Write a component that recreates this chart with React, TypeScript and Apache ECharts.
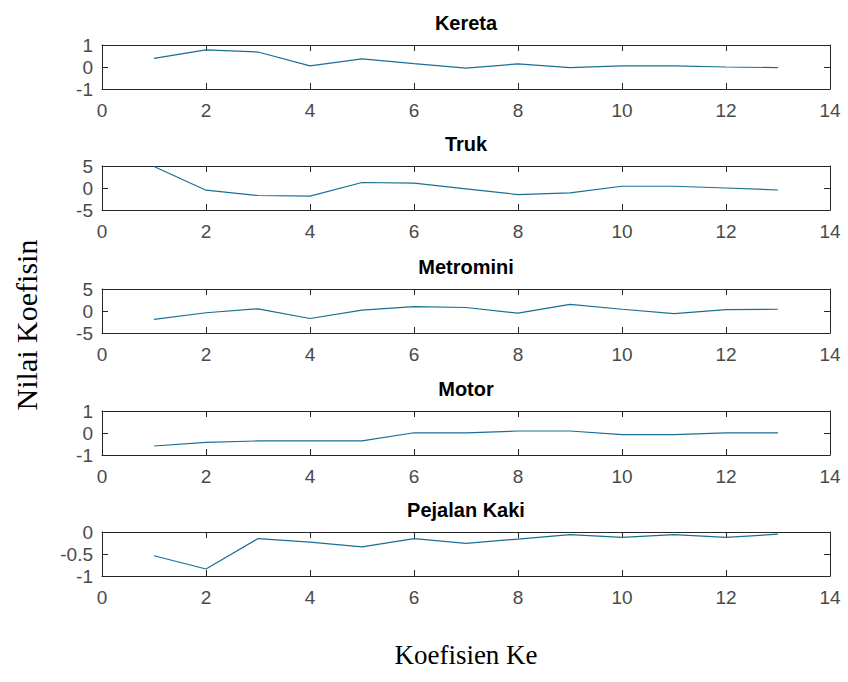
import React, { useEffect, useRef } from "react";
import * as echarts from "echarts";

// ---- data ----
const coefIndex = [1, 2, 3, 4, 5, 6, 7, 8, 9, 10, 11, 12, 13];
const titles = ["Kereta", "Truk", "Metromini", "Motor", "Pejalan Kaki"];
const kereta = [0.39, 0.78, 0.68, 0.05, 0.37, 0.15, -0.05, 0.14, -0.03, 0.05, 0.05, 0.0, -0.03];
const truk = [4.9, -0.5, -1.7, -1.85, 1.25, 1.1, -0.2, -1.5, -1.1, 0.4, 0.4, 0.0, -0.45];
const metromini = [-1.9, -0.4, 0.5, -1.7, 0.2, 1.0, 0.8, -0.5, 1.5, 0.4, -0.6, 0.3, 0.4];
const motor = [-0.59, -0.43, -0.36, -0.36, -0.36, 0.01, 0.01, 0.09, 0.09, -0.07, -0.07, 0.01, 0.01];
const pejalanKaki = [-0.54, -0.84, -0.15, -0.23, -0.34, -0.15, -0.26, -0.16, -0.06, -0.12, -0.06, -0.12, -0.05];
const seriesValues = [kereta, truk, metromini, motor, pejalanKaki];
const yMins = [-1, -5, -5, -1, -1];
const yMaxs = [1, 5, 5, 1, 0];
const yIntervals = [1, 5, 5, 1, 0.5];
const xMin = 0;
const xMax = 14;
const xInterval = 2;
const yAxisTitle = "Nilai Koefisin";
const xAxisTitle = "Koefisien Ke";

// ---- layout ----
const W = 848;
const H = 682;
const gridLeft = 102;
const gridWidth = 728;
const gridTops = [45, 166, 289, 411, 532];
const gridHeight = 44;
const lineColor = "#1a6e96";
const axisColor = "#262626";
const labelColor = "#4a4a4a";
const sansFont = "'Liberation Sans', Arial, Helvetica, sans-serif";
const serifFont = "'Liberation Serif', 'Times New Roman', serif";

export default function App() {
  const ref = useRef<HTMLDivElement>(null);

  useEffect(() => {
    if (!ref.current) return;
    const chart = echarts.init(ref.current, null, { renderer: "svg", width: W, height: H });

    const grids: any[] = [];
    const xAxes: any[] = [];
    const yAxes: any[] = [];
    const series: any[] = [];
    const graphics: any[] = [];

    titles.forEach((t, i) => {
      grids.push({ left: gridLeft, top: gridTops[i], width: gridWidth, height: gridHeight, containLabel: false });
      const axisLine = { show: true, onZero: false, lineStyle: { color: axisColor, width: 1 } };
      const tick = { show: true, inside: true, length: 6, lineStyle: { color: axisColor } };
      xAxes.push({
        type: "value", gridIndex: i, position: "bottom", min: xMin, max: xMax, interval: xInterval,
        axisLine, axisTick: tick, splitLine: { show: false },
        axisLabel: { show: true, color: labelColor, fontSize: 19, fontFamily: sansFont, margin: 12 },
      });
      xAxes.push({
        type: "value", gridIndex: i, position: "top", min: xMin, max: xMax, interval: xInterval,
        axisLine, axisTick: tick, splitLine: { show: false }, axisLabel: { show: false },
      });
      yAxes.push({
        type: "value", gridIndex: i, position: "left", min: yMins[i], max: yMaxs[i], interval: yIntervals[i],
        axisLine, axisTick: tick, splitLine: { show: false },
        axisLabel: { show: true, color: labelColor, fontSize: 19, fontFamily: sansFont, margin: 9 },
      });
      yAxes.push({
        type: "value", gridIndex: i, position: "right", min: yMins[i], max: yMaxs[i], interval: yIntervals[i],
        axisLine, axisTick: tick, splitLine: { show: false }, axisLabel: { show: false },
      });
      series.push({
        type: "line",
        name: t,
        xAxisIndex: i * 2,
        yAxisIndex: i * 2,
        data: coefIndex.map((x, k) => [x, seriesValues[i][k]]),
        showSymbol: false,
        symbol: "none",
        lineStyle: { color: lineColor, width: 1.2 },
        itemStyle: { color: lineColor },
        clip: true,
      });
      graphics.push({
        type: "text",
        x: gridLeft + gridWidth / 2,
        y: gridTops[i] - 22,
        style: {
          text: t, fill: "#000", font: `bold 20px ${sansFont}`,
          textAlign: "center", textVerticalAlign: "middle",
        },
      });
    });

    graphics.push({
      type: "text",
      x: 26,
      y: 325,
      rotation: Math.PI / 2,
      style: {
        text: yAxisTitle, fill: "#000", font: `30px ${serifFont}`,
        textAlign: "center", textVerticalAlign: "middle",
      },
    });
    graphics.push({
      type: "text",
      x: gridLeft + gridWidth / 2,
      y: 655,
      style: {
        text: xAxisTitle, fill: "#000", font: `27px ${serifFont}`,
        textAlign: "center", textVerticalAlign: "middle",
      },
    });

    chart.setOption({
      animation: false,
      backgroundColor: "#fff",
      grid: grids,
      xAxis: xAxes,
      yAxis: yAxes,
      series,
      graphic: graphics,
    });

    return () => chart.dispose();
  }, []);

  return (
    <div
      ref={ref}
      style={{ position: "fixed", left: 0, top: 0, width: W, height: H, background: "#fff" }}
    />
  );
}
